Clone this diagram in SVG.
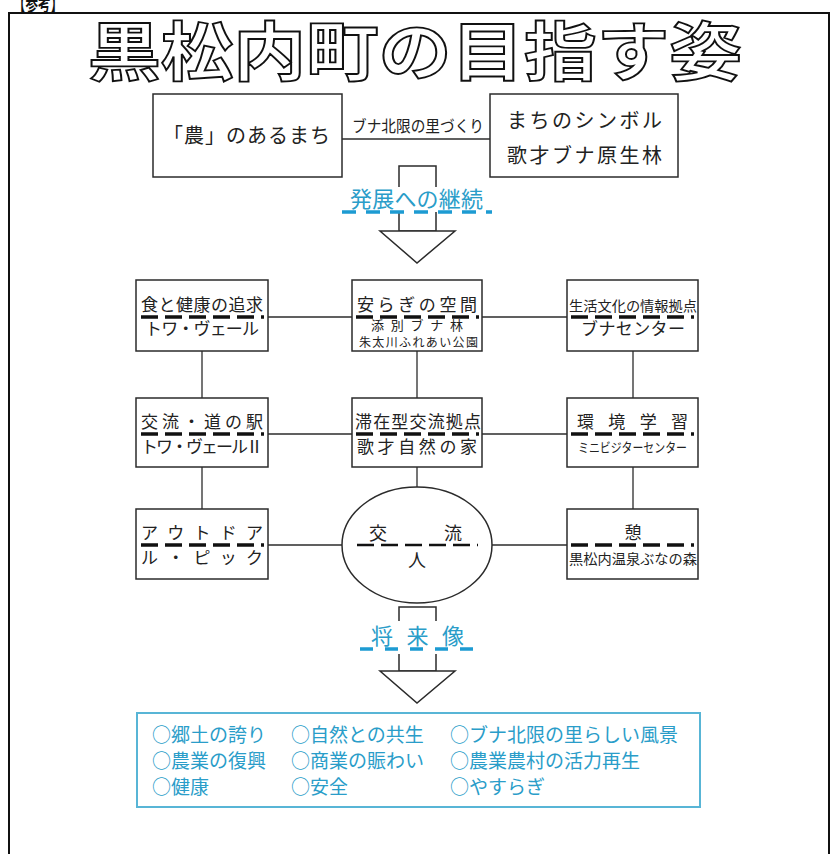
<svg xmlns="http://www.w3.org/2000/svg" width="838" height="854" viewBox="0 0 838 854">
<style>
.box{fill:#fff;stroke:#2b2b2b;stroke-width:1.5}
.ln{stroke:#2b2b2b;stroke-width:1.3;fill:none}
.t{font-family:"Noto Sans CJK JP","Noto Sans CJK SC",sans-serif;fill:#222}
.c{fill:#2a9dc9}
.dash{stroke:#111;stroke-width:3.5;stroke-dasharray:17 7;fill:none}
.edash{stroke:#111;stroke-width:2.5;stroke-dasharray:17 7;fill:none}
.cdash{stroke:#1d9bd2;stroke-width:3.5;fill:none}
.arrow{fill:#fff;stroke:#2b2b2b;stroke-width:1.5}
</style>
<rect x="0" y="0" width="838" height="854" fill="#fff"/>
<!-- outer frame -->
<path d="M9,860 V13 H829 V860" fill="none" stroke="#111" stroke-width="2"/>
<text class="t" x="13" y="11" font-size="20" font-weight="700" textLength="50" lengthAdjust="spacingAndGlyphs" style="fill:#111">【参考】</text>
<!-- title -->
<g id="title">
<text class="t" x="415" y="75" font-size="64" font-weight="700" text-anchor="middle" textLength="654" lengthAdjust="spacingAndGlyphs" style="fill:#fff;stroke:#111;stroke-width:1.8">黒松内町の目指す姿</text>
</g>
<!-- connectors -->
<g id="connectors">
<line class="ln" x1="342" y1="139" x2="490" y2="139"/>
<line class="ln" x1="268" y1="317" x2="352" y2="317"/>
<line class="ln" x1="482" y1="317" x2="567" y2="317"/>
<line class="ln" x1="268" y1="434" x2="352" y2="434"/>
<line class="ln" x1="482" y1="434" x2="567" y2="434"/>
<line class="ln" x1="268" y1="545" x2="342" y2="545"/>
<line class="ln" x1="492" y1="545" x2="567" y2="545"/>
<line class="ln" x1="202" y1="351" x2="202" y2="398"/>
<line class="ln" x1="417" y1="351" x2="417" y2="398"/>
<line class="ln" x1="633" y1="351" x2="633" y2="398"/>
<line class="ln" x1="202" y1="467" x2="202" y2="509"/>
<line class="ln" x1="417" y1="467" x2="417" y2="487"/>
<line class="ln" x1="633" y1="467" x2="633" y2="509"/>
<text class="t" x="352" y="132" font-size="16" textLength="132" lengthAdjust="spacingAndGlyphs">ブナ北限の里づくり</text>
</g>
<!-- top boxes -->
<g id="nou">
<rect class="box" x="153" y="94" width="189" height="83"/>
<text class="t" x="163" y="143" font-size="20" textLength="167" lengthAdjust="spacing">「農」のあるまち</text>
</g>
<g id="symbol">
<rect class="box" x="490" y="94" width="188" height="83"/>
<text class="t" x="507" y="128" font-size="20" textLength="155" lengthAdjust="spacing">まちのシンボル</text>
<text class="t" x="507" y="163" font-size="20" textLength="155" lengthAdjust="spacing">歌才ブナ原生林</text>
</g>
<!-- arrow 1 -->
<g id="arrow1">
<rect class="arrow" x="399" y="166" width="37" height="65"/>
<path class="arrow" d="M380,231 H455 L417,263 Z"/>
<rect x="338" y="187" width="160" height="25" fill="#fff"/>
<text class="t c" x="350" y="207" font-size="22" textLength="133" lengthAdjust="spacing">発展への継続</text>
<line class="cdash" x1="342" y1="212" x2="492" y2="212" stroke-dasharray="14 10"/>
</g>
<!-- row 1 -->
<g id="shoku">
<rect class="box" x="136" y="280" width="132" height="71"/>
<text class="t" x="141" y="311" font-size="17" textLength="122" lengthAdjust="spacing">食と健康の追求</text>
<line class="dash" x1="141" y1="317" x2="264" y2="317"/>
<text class="t" x="145" y="335" font-size="17" textLength="114" lengthAdjust="spacing">トワ・ヴェール</text>
</g>
<g id="yasuragi">
<rect class="box" x="352" y="280" width="130" height="71"/>
<text class="t" x="357" y="311" font-size="17" textLength="120" lengthAdjust="spacing">安らぎの空間</text>
<line class="dash" x1="356" y1="317" x2="479" y2="317"/>
<text class="t" x="371" y="330" font-size="13" textLength="92" lengthAdjust="spacing">添別ブナ林</text>
<text class="t" x="359" y="347" font-size="12" textLength="119" lengthAdjust="spacing">朱太川ふれあい公園</text>
</g>
<g id="seikatsu">
<rect class="box" x="567" y="280" width="131" height="71"/>
<text class="t" x="569" y="311" font-size="14" textLength="128" lengthAdjust="spacingAndGlyphs">生活文化の情報拠点</text>
<line class="dash" x1="571" y1="317" x2="694" y2="317"/>
<text class="t" x="581" y="335" font-size="17" textLength="104" lengthAdjust="spacing">ブナセンター</text>
</g>
<!-- row 2 -->
<g id="michinoeki">
<rect class="box" x="136" y="398" width="132" height="69"/>
<text class="t" x="141" y="428" font-size="17" textLength="122" lengthAdjust="spacing">交流・道の駅</text>
<line class="dash" x1="141" y1="434" x2="264" y2="434"/>
<text class="t" x="141" y="453" font-size="17" textLength="122" lengthAdjust="spacing">トワ・ヴェールⅡ</text>
</g>
<g id="taizai">
<rect class="box" x="352" y="398" width="130" height="69"/>
<text class="t" x="355" y="428" font-size="17" textLength="126" lengthAdjust="spacing">滞在型交流拠点</text>
<line class="dash" x1="356" y1="434" x2="479" y2="434"/>
<text class="t" x="357" y="453" font-size="17" textLength="120" lengthAdjust="spacing">歌才自然の家</text>
</g>
<g id="kankyo">
<rect class="box" x="567" y="398" width="131" height="69"/>
<text class="t" x="577" y="428" font-size="17" textLength="111" lengthAdjust="spacing">環境学習</text>
<line class="dash" x1="571" y1="434" x2="694" y2="434"/>
<text class="t" x="578" y="452" font-size="13" textLength="109" lengthAdjust="spacingAndGlyphs">ミニビジターセンター</text>
</g>
<!-- row 3 -->
<g id="outdoor">
<rect class="box" x="136" y="509" width="132" height="70"/>
<text class="t" x="141" y="539" font-size="17" textLength="122" lengthAdjust="spacing">アウトドア</text>
<line class="dash" x1="141" y1="545" x2="264" y2="545"/>
<text class="t" x="141" y="564" font-size="17" textLength="122" lengthAdjust="spacing">ル・ピック</text>
</g>
<g id="koryu">
<ellipse fill="#fff" stroke="#2b2b2b" stroke-width="1.5" cx="417" cy="545" rx="75" ry="58"/>
<text class="t" x="369" y="540" font-size="18" textLength="93" lengthAdjust="spacing">交流</text>
<line class="edash" x1="357" y1="545" x2="478" y2="545"/>
<text class="t" x="417" y="567" font-size="18" text-anchor="middle">人</text>
</g>
<g id="ikoi">
<rect class="box" x="567" y="509" width="131" height="70"/>
<text class="t" x="633" y="539" font-size="17" text-anchor="middle">憩</text>
<line class="dash" x1="571" y1="545" x2="694" y2="545"/>
<text class="t" x="569" y="564" font-size="14" textLength="128" lengthAdjust="spacingAndGlyphs">黒松内温泉ぶなの森</text>
</g>
<!-- arrow 2 -->
<g id="arrow2">
<rect class="arrow" x="399" y="607" width="37" height="64"/>
<path class="arrow" d="M380,671 H455 L417,703 Z"/>
<rect x="352" y="621" width="130" height="33" fill="#fff"/>
<text class="t c" x="371" y="644" font-size="22" textLength="93" lengthAdjust="spacing">将来像</text>
<line class="cdash" x1="360" y1="649" x2="473" y2="649" stroke-dasharray="13 12"/>
</g>
<!-- future box -->
<g id="future">
<rect x="137" y="713" width="563" height="94" fill="#fff" stroke="#58b5d6" stroke-width="2"/>
<g class="t c" font-size="19">
<text x="152" y="742">○郷土の誇り</text>
<text x="291" y="742">○自然との共生</text>
<text x="450" y="742">○ブナ北限の里らしい風景</text>
<text x="152" y="768">○農業の復興</text>
<text x="291" y="768">○商業の賑わい</text>
<text x="450" y="768">○農業農村の活力再生</text>
<text x="152" y="794">○健康</text>
<text x="291" y="794">○安全</text>
<text x="450" y="794">○やすらぎ</text>
</g>
</g>
</svg>
